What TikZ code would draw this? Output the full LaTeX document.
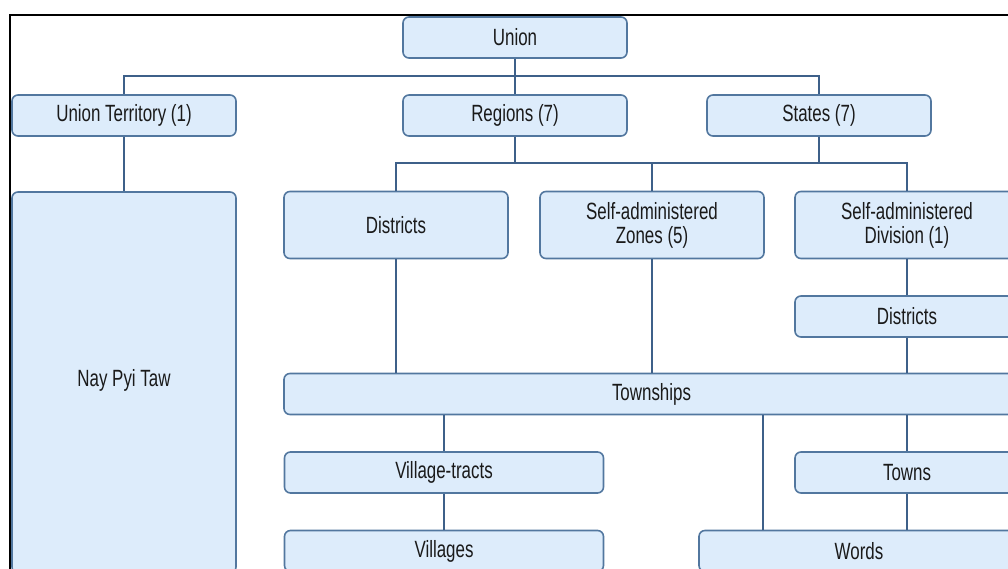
\documentclass[tikz,border=0pt]{standalone}
\usepackage{fontspec}
\setmainfont{Liberation Sans}[FakeStretch=0.72]
\usetikzlibrary{positioning}

\definecolor{boxfill}{HTML}{DDECFB}
\definecolor{boxline}{HTML}{52779F}
\definecolor{linkline}{HTML}{3E6089}
\definecolor{labeltext}{HTML}{1A1A1A}

\tikzset{
	unit/.style = {draw = boxline, fill = boxfill, line width = 1.6pt,
		rounded corners = 6pt, text = labeltext, align = center,
		font = \fontsize{23.5}{24}\selectfont,
		minimum width = 224pt, minimum height = 41pt, inner sep = 0pt},
	link/.style = {draw = linkline, line width = 2pt},
}

\begin{document}
\begin{tikzpicture}[x = 1pt, y = -1pt]
	
	\useasboundingbox (0,0) rectangle (1008,568);
	\clip (0,0) rectangle (1008,568);
	
	% top level
	\node [unit] (union) at (515,37.5) {Union};
	\node [unit] (ut) at (124,115.5) {Union Territory (1)};
	\node [unit] (regions) at (515,115.5) {Regions (7)};
	\node [unit] (states) at (819,115.5) {States (7)};
	
	% left column
	\node [unit, minimum height = 381pt, text depth = 9pt] (npt) at (124,382.5) {Nay Pyi Taw};
	
	% second level
	\node [unit, minimum height = 67pt] (dist) at (396,225) {Districts};
	\node [unit, minimum height = 67pt] (saz) at (652,225) {Self-administered\\Zones (5)};
	\node [unit, minimum height = 67pt] (sad) at (907,225) {Self-administered\\Division (1)};
	\node [unit] (dist2) at (907,316.5) {Districts};
	
	\node [unit, minimum width = 735pt] (town) at (651.5,394) {Townships};
	
	\node [unit, minimum width = 319pt] (vt) at (444,472.5) {Village-tracts};
	\node [unit, minimum width = 319pt] (vil) at (444,551) {Villages};
	\node [unit] (towns) at (907,472.5) {Towns};
	\node [unit, minimum width = 320pt] (words) at (859,551) {Words};
	
	\coordinate (topbus) at (515,76);
	\coordinate (midbus) at (515,163);
	\coordinate (wordsin) at (763,0);
	
	\draw [link] (union) -- (regions);
	\draw [link] (ut.north) |- (topbus) -| (states.north);
	\draw [link] (ut) -- (npt);
	
	\draw [link] (regions) -- (midbus);
	\draw [link] (states.south) -- (states.south |- midbus);
	\draw [link] (dist.north) |- (midbus) -| (sad.north);
	\draw [link] (saz.north) -- (saz.north |- midbus);
	
	\draw [link] (dist.south) -- (dist.south |- town.north);
	\draw [link] (saz.south) -- (saz.south |- town.north);
	\draw [link] (sad) -- (dist2);
	\draw [link] (dist2.south) -- (dist2.south |- town.north);
	
	\draw [link] (vt.north |- town.south) -- (vt.north);
	\draw [link] (vt) -- (vil);
	\draw [link] (towns.north |- town.south) -- (towns.north);
	\draw [link] (town.south -| wordsin) -- (words.north -| wordsin);
	\draw [link] (towns.south) -- (towns.south |- words.north);
	
	% page frame
	\draw [line width = 2.5pt] (10,570) -- (10,15) -- (1010,15);
	
\end{tikzpicture}
\end{document}
